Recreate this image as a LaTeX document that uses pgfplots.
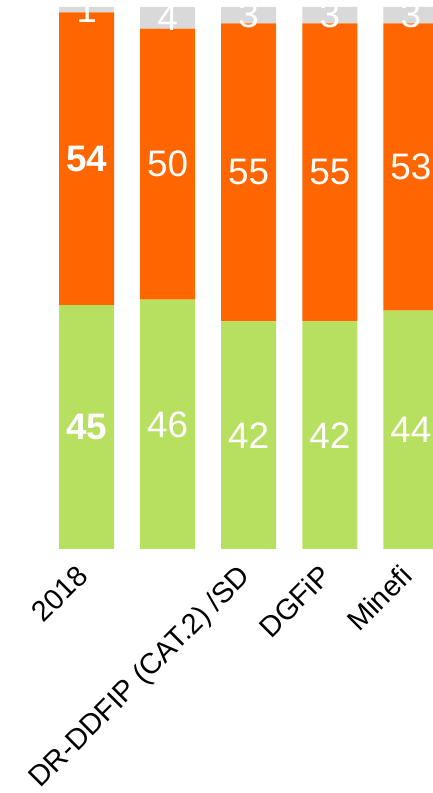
\documentclass[border=0pt]{standalone}
\usepackage{fontspec}
\setmainfont{Liberation Sans}
\usepackage{pgfplots}
\usepackage{pgfplotstable}
\pgfplotsset{compat=1.18}

\definecolor{barGreen}{HTML}{B8E060}
\definecolor{barOrange}{HTML}{FF6600}
\definecolor{barGrey}{HTML}{D9D9D9}

% shares per group: g = green, o = orange, r = grey (rest)
\pgfplotstableread{
x g o r
0 45 54 1
1 46 50 4
2 42 55 3
3 42 55 3
4 44 53 3
}\shares

\begin{document}
\begin{tikzpicture}
\useasboundingbox (0bp,0bp) rectangle (433bp,793bp);
\pgfplotsset{
  base/.style={
    at={(0bp,244bp)}, anchor=south west,
    scale only axis, width=433bp, height=542bp,
    xmin=-1.067, xmax=4.273, ymin=0, ymax=100,
  },
}
\begin{axis}[base, ybar stacked, bar width=55bp,
  axis line style={draw=none}, major tick length=0pt,
  ytick=\empty, xtick={0,...,4},
  xticklabels={2018,,DR-DDFIP (CAT.2) /SD,DGFiP,Minefi},
  xticklabel style={xshift=3bp, yshift=-29bp, rotate=45, anchor=base east,
    inner sep=0pt, font=\fontsize{29}{32}\selectfont},
]
\addplot[fill=barGreen, draw=none] table[x=x,y=g]{\shares};
\addplot[fill=barOrange, draw=none] table[x=x,y=o]{\shares};
\addplot[fill=barGrey, draw=none] table[x=x,y=r]{\shares};
\end{axis}
% value labels, centred in each segment (first group bold)
\begin{axis}[base, hide axis,
  visualization depends on={value \coordindex \as \idx},
  nodes near coords={\fontsize{37}{40}\selectfont\ifnum\idx=0 \bfseries\fi
    \pgfmathprintnumber[assume math mode=true]{\pgfplotspointmeta}},
  every node near coord/.append style={anchor=center, text=white, inner sep=0pt},
]
\addplot[draw=none, point meta=explicit] table[x=x, y expr=\thisrow{g}/2, meta=g]{\shares};
\addplot[draw=none, point meta=explicit] table[x=x, y expr=\thisrow{g}+\thisrow{o}/2, meta=o]{\shares};
\addplot[draw=none, point meta=explicit,
  nodes near coords={\fontsize{37}{40}\selectfont
    \pgfmathprintnumber[assume math mode=true]{\pgfplotspointmeta}}]
  table[x=x, y expr=\thisrow{g}+\thisrow{o}+\thisrow{r}/2, meta=r]{\shares};
\end{axis}
\end{tikzpicture}
\end{document}
